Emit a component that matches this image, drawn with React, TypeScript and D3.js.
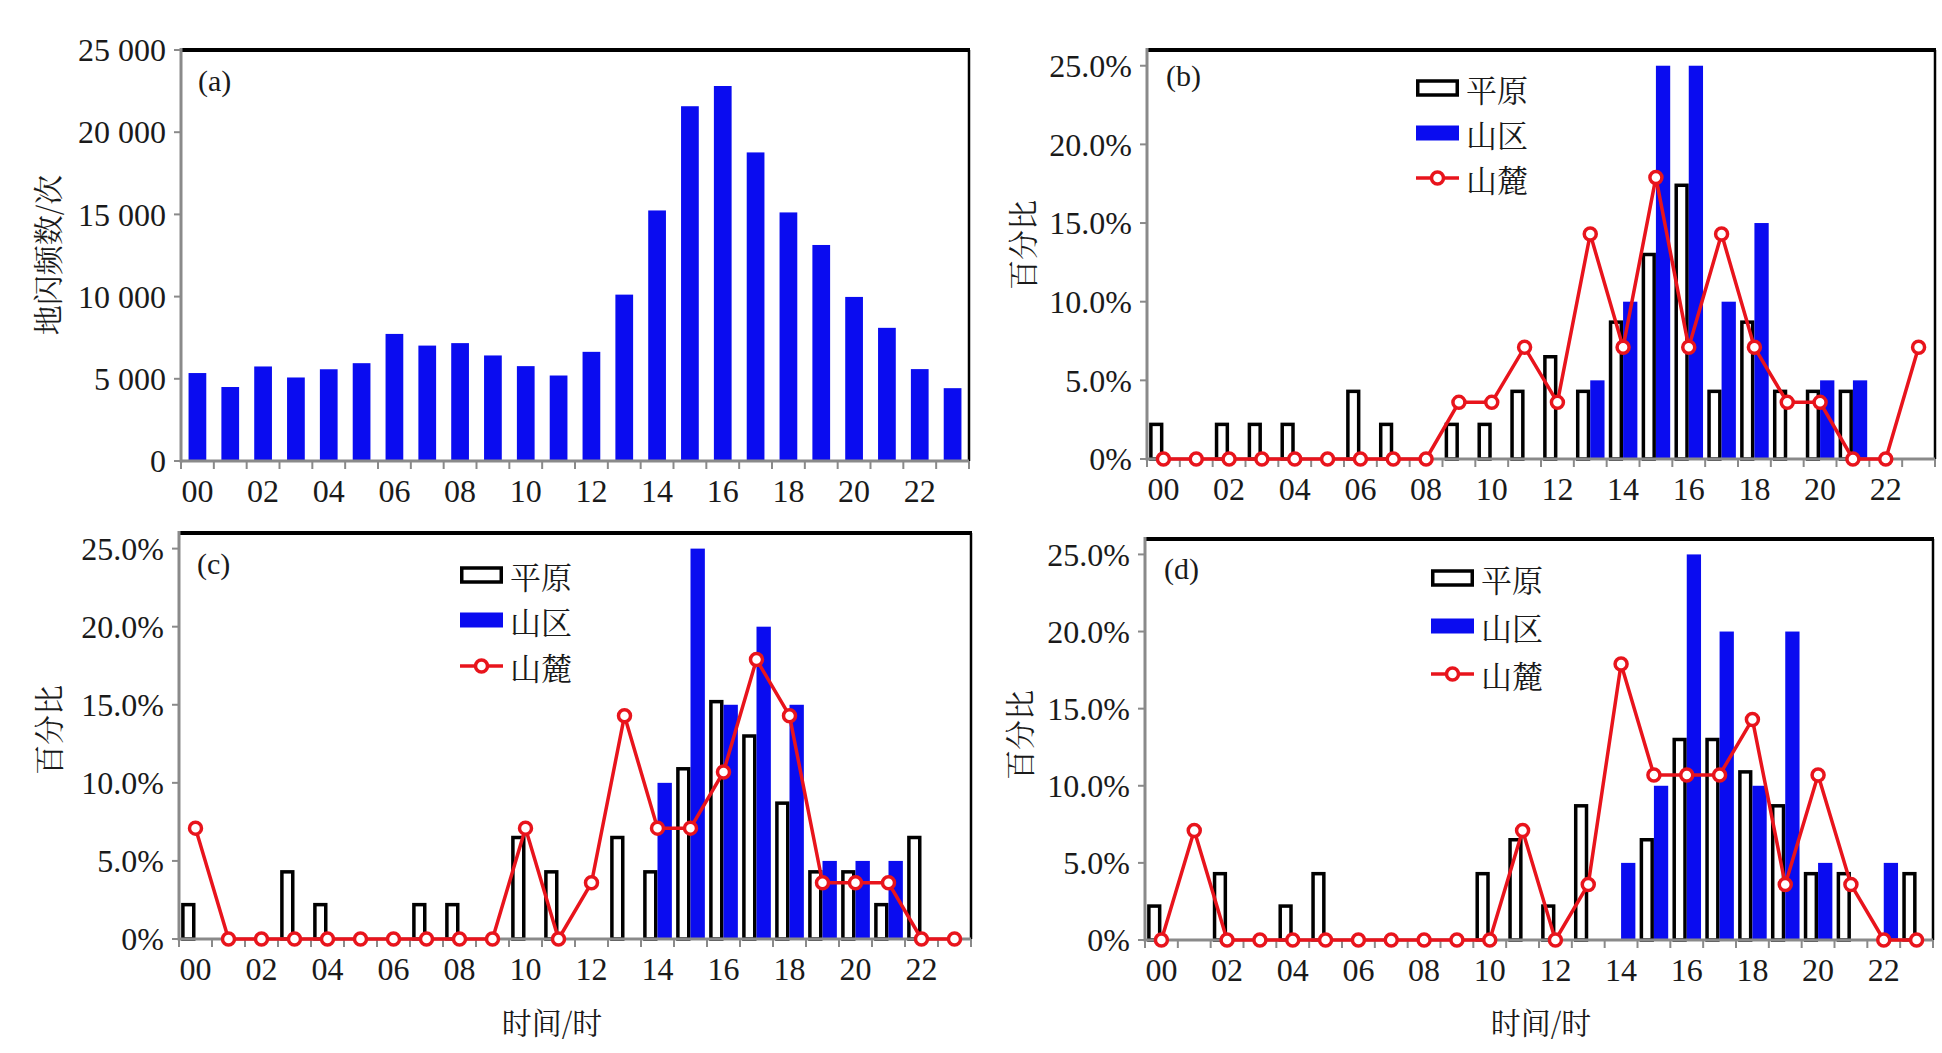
import * as d3 from "d3";

// hour categories
const hours = ["00", "01", "02", "03", "04", "05", "06", "07", "08", "09", "10", "11",
  "12", "13", "14", "15", "16", "17", "18", "19", "20", "21", "22", "23"];
const hourLabels = ["00", "02", "04", "06", "08", "10", "12", "14", "16", "18", "20", "22"];

// (a) cloud-to-ground flash counts
const flashCounts = [5350, 4500, 5750, 5080, 5580, 5950, 7730, 7020, 7170, 6420, 5770, 5200,
  6640, 10120, 15240, 21580, 22810, 18770, 15120, 13140, 9980, 8100, 5590, 4430];
const countTicks = [0, 5000, 10000, 15000, 20000, 25000];
const countTickLabels = ["0", "5 000", "10 000", "15 000", "20 000", "25 000"];

// percent panels
const pctTicks = [0, 5, 10, 15, 20, 25];
const pctTickLabels = ["0%", "5.0%", "10.0%", "15.0%", "20.0%", "25.0%"];
const seriesNames = ["平原", "山区", "山麓"];

const plainB = [2.2, 0, 2.2, 2.2, 2.2, 0, 4.3, 2.2, 0, 2.2, 2.2, 4.3, 6.5, 4.3, 8.7, 13.0, 17.4, 4.3, 8.7, 4.3, 4.3, 4.3, 0, 0];
const mountB = [0, 0, 0, 0, 0, 0, 0, 0, 0, 0, 0, 0, 0, 5, 10, 25, 25, 10, 15, 0, 5, 5, 0, 0];
const footB = [0, 0, 0, 0, 0, 0, 0, 0, 0, 3.6, 3.6, 7.1, 3.6, 14.3, 7.1, 17.9, 7.1, 14.3, 7.1, 3.6, 3.6, 0, 0, 7.1];

const plainC = [2.2, 0, 0, 4.3, 2.2, 0, 0, 2.2, 2.2, 0, 6.5, 4.3, 0, 6.5, 4.3, 10.9, 15.2, 13.0, 8.7, 4.3, 4.3, 2.2, 6.5, 0];
const mountC = [0, 0, 0, 0, 0, 0, 0, 0, 0, 0, 0, 0, 0, 0, 10, 25, 15, 20, 15, 5, 5, 5, 0, 0];
const footC = [7.1, 0, 0, 0, 0, 0, 0, 0, 0, 0, 7.1, 0, 3.6, 14.3, 7.1, 7.1, 10.7, 17.9, 14.3, 3.6, 3.6, 3.6, 0, 0];

const plainD = [2.2, 0, 4.3, 0, 2.2, 4.3, 0, 0, 0, 0, 4.3, 6.5, 2.2, 8.7, 0, 6.5, 13.0, 13.0, 10.9, 8.7, 4.3, 4.3, 0, 4.3];
const mountD = [0, 0, 0, 0, 0, 0, 0, 0, 0, 0, 0, 0, 0, 0, 5, 10, 25, 20, 10, 20, 5, 0, 5, 0];
const footD = [0, 7.1, 0, 0, 0, 0, 0, 0, 0, 0, 0, 7.1, 0, 3.6, 17.9, 10.7, 10.7, 10.7, 14.3, 3.6, 10.7, 3.6, 0, 0];

const BLUE = "#0a0cf0";
const RED = "#e8141c";
const GRAY = "#8a8a8a";
const INK = "#1a1a1a";
const SERIF = "'Liberation Serif', 'Times New Roman', serif";
const CJK = "'Noto Serif CJK SC', 'Noto Sans CJK SC', serif";

interface Frame {
  left: number;
  right: number;
  top: number;
  bottom: number;
}

function Axes({ f, x, y, ticks, tickLabels }: {
  f: Frame;
  x: d3.ScaleBand<string>;
  y: d3.ScaleLinear<number, number>;
  ticks: number[];
  tickLabels: string[];
}) {
  const bw = x.bandwidth();
  return (
    <g>
      {/* frame: thick black top/right, gray axes */}
      <line x1={f.left} x2={f.right + 1} y1={f.top} y2={f.top} stroke="#000" strokeWidth={4} />
      <line x1={f.right} x2={f.right} y1={f.top} y2={f.bottom} stroke="#000" strokeWidth={2.5} />
      <line x1={f.left} x2={f.left} y1={f.top - 2} y2={f.bottom + 1.5} stroke={GRAY} strokeWidth={3} />
      <line x1={f.left} x2={f.right} y1={f.bottom} y2={f.bottom} stroke={GRAY} strokeWidth={3} />
      {ticks.map((t, i) => (
        <g key={t}>
          <line x1={f.left - 7} x2={f.left} y1={y(t)} y2={y(t)} stroke={GRAY} strokeWidth={2} />
          <text x={f.left - 15} y={y(t)} dy="0.35em" textAnchor="end" fontFamily={SERIF} fontSize={32} fill={INK}>
            {tickLabels[i]}
          </text>
        </g>
      ))}
      {hours.map((h) => (
        <line key={h} x1={x(h)!} x2={x(h)!} y1={f.bottom} y2={f.bottom + 8} stroke={GRAY} strokeWidth={2} />
      ))}
      <line x1={f.right} x2={f.right} y1={f.bottom} y2={f.bottom + 8} stroke={GRAY} strokeWidth={2} />
      {hourLabels.map((h) => (
        <text key={h} x={x(h)! + bw / 2} y={f.bottom + 41} textAnchor="middle" fontFamily={SERIF} fontSize={32} fill={INK}>
          {h}
        </text>
      ))}
    </g>
  );
}

function YTitle({ x, y, text }: { x: number; y: number; text: string }) {
  return (
    <text transform={`translate(${x},${y}) rotate(-90)`} textAnchor="middle" dominantBaseline="central"
      fontFamily={CJK} fontSize={30} fill={INK}>
      {text}
    </text>
  );
}

function CountPanel({ f }: { f: Frame }) {
  const x = d3.scaleBand<string>().domain(hours).range([f.left, f.right]);
  const y = d3.scaleLinear().domain([0, 25000]).range([f.bottom, f.top]);
  const bw = x.bandwidth();
  return (
    <g>
      {hours.map((h, i) => (
        <rect key={h} x={x(h)! + bw * 0.23} width={bw * 0.54} y={y(flashCounts[i])}
          height={f.bottom - y(flashCounts[i])} fill={BLUE} />
      ))}
      <Axes f={f} x={x} y={y} ticks={countTicks} tickLabels={countTickLabels} />
      <text x={f.left + 17} y={f.top + 41} fontFamily={SERIF} fontSize={30} fill={INK}>(a)</text>
      <YTitle x={46} y={255} text="地闪频数/次" />
    </g>
  );
}

function PctPanel({ f, tag, tagPos, plain, mount, foot, legendX, legendRows, yTitle, xTitle }: {
  f: Frame;
  tag: string;
  tagPos: [number, number];
  plain: number[];
  mount: number[];
  foot: number[];
  legendX: number;
  legendRows: number[];
  yTitle: [number, number];
  xTitle?: [number, number];
}) {
  const x = d3.scaleBand<string>().domain(hours).range([f.left, f.right]);
  const y = d3.scaleLinear().domain([0, 26]).range([f.bottom, f.top]);
  const bw = x.bandwidth();
  const barW = bw * 0.435;
  const line = d3.line<number>()
    .x((_, i) => x(hours[i])! + bw / 2)
    .y((d) => y(d));
  return (
    <g>
      {plain.map((v, i) =>
        v > 0 ? (
          <rect key={"p" + i} x={x(hours[i])! + bw * 0.065 + 1.75} width={barW - 3.5} y={y(v)}
            height={f.bottom - y(v)} fill="#fff" stroke="#000" strokeWidth={3.5} />
        ) : null
      )}
      {mount.map((v, i) =>
        v > 0 ? (
          <rect key={"m" + i} x={x(hours[i])! + bw * 0.065 + barW} width={barW} y={y(v)}
            height={f.bottom - y(v)} fill={BLUE} />
        ) : null
      )}
      <Axes f={f} x={x} y={y} ticks={pctTicks} tickLabels={pctTickLabels} />
      <path d={line(foot) ?? ""} fill="none" stroke={RED} strokeWidth={3.5} strokeLinejoin="round" />
      {foot.map((v, i) => (
        <circle key={"f" + i} cx={x(hours[i])! + bw / 2} cy={y(v)} r={6} fill="#fff" stroke={RED} strokeWidth={3.5} />
      ))}
      {/* legend */}
      <rect x={legendX + 1.75} y={legendRows[0] - 7} width={39.5} height={14} fill="#fff" stroke="#000" strokeWidth={3.5} />
      <rect x={legendX} y={legendRows[1] - 7.5} width={43} height={15} fill={BLUE} />
      <line x1={legendX} x2={legendX + 43} y1={legendRows[2]} y2={legendRows[2]} stroke={RED} strokeWidth={3.5} />
      <circle cx={legendX + 21.5} cy={legendRows[2]} r={6} fill="#fff" stroke={RED} strokeWidth={3.5} />
      {seriesNames.map((s, i) => (
        <text key={s} x={legendX + 50} y={legendRows[i]} dominantBaseline="central" fontFamily={CJK}
          fontSize={31} fill={INK}>
          {s}
        </text>
      ))}
      <text x={tagPos[0]} y={tagPos[1]} fontFamily={SERIF} fontSize={30} fill={INK}>{tag}</text>
      <YTitle x={yTitle[0]} y={yTitle[1]} text="百分比" />
      {xTitle && (
        <text x={xTitle[0]} y={xTitle[1]} textAnchor="middle" dominantBaseline="central" fontFamily={CJK}
          fontSize={30} fill={INK}>
          时间/时
        </text>
      )}
    </g>
  );
}

export default function App() {
  return (
    <svg width={1942} height={1053} style={{ position: "absolute", left: 0, top: 0, background: "#fff" }}>
      <rect width={1942} height={1053} fill="#fff" />
      <CountPanel f={{ left: 181, right: 969, top: 50, bottom: 461 }} />
      <PctPanel f={{ left: 1147, right: 1935, top: 50, bottom: 459 }} tag="(b)" tagPos={[1166, 86]}
        plain={plainB} mount={mountB} foot={footB} legendX={1416} legendRows={[88, 133, 178]}
        yTitle={[1021, 245]} />
      <PctPanel f={{ left: 179, right: 971, top: 533, bottom: 939 }} tag="(c)" tagPos={[197, 574]}
        plain={plainC} mount={mountC} foot={footC} legendX={460} legendRows={[575, 620, 666]}
        yTitle={[47, 730]} xTitle={[552, 1021]} />
      <PctPanel f={{ left: 1145, right: 1933, top: 539, bottom: 940 }} tag="(d)" tagPos={[1164, 579]}
        plain={plainD} mount={mountD} foot={footD} legendX={1431} legendRows={[578, 626, 674]}
        yTitle={[1018, 735]} xTitle={[1541, 1021]} />
    </svg>
  );
}
